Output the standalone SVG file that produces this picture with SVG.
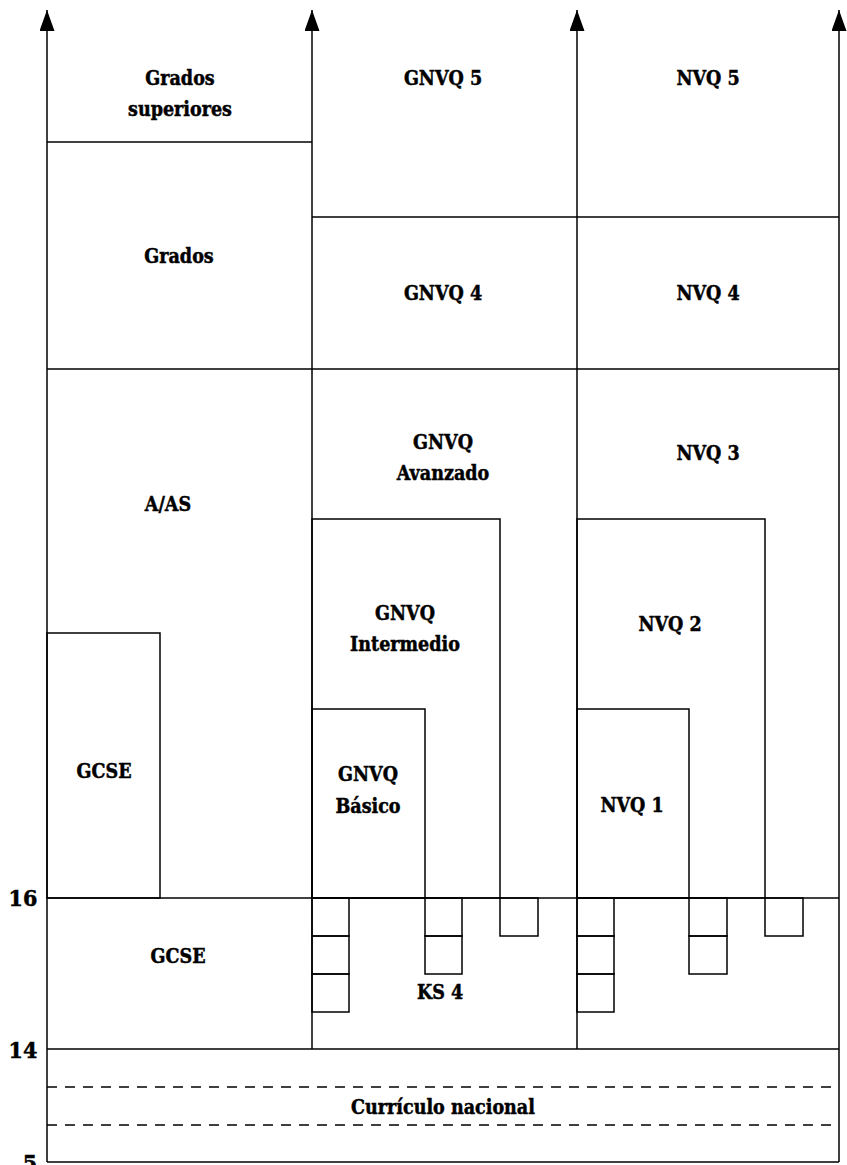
<svg xmlns="http://www.w3.org/2000/svg" width="847" height="1165" viewBox="0 0 847 1165">
<style>
.ln{stroke:#000;stroke-width:1.5;fill:none}
.bx{stroke:#000;stroke-width:1.5;fill:none}
.dash{stroke:#000;stroke-width:1.5;fill:none;stroke-dasharray:10 8}
.t{font-family:"DejaVu Serif Condensed","DejaVu Serif",serif;font-stretch:condensed;font-weight:bold;font-size:19.5px;fill:#000;stroke:#000;stroke-width:0.45;text-anchor:middle}
.n{font-family:"DejaVu Serif Condensed","DejaVu Serif",serif;font-stretch:condensed;font-weight:bold;font-size:23px;fill:#000;stroke:#000;stroke-width:0.5;text-anchor:middle}
</style>
<defs>
<marker id="arr" markerWidth="21" markerHeight="15" refX="21" refY="7.5" orient="auto" markerUnits="userSpaceOnUse" viewBox="0 0 21 15">
<path d="M0,0 L21,7.5 L0,15 Z" fill="#000"/>
</marker>
</defs>
<g id="connectors">
<line class="ln" x1="47" y1="1162" x2="47" y2="10" marker-end="url(#arr)"/>
<line class="ln" x1="312" y1="1049" x2="312" y2="10" marker-end="url(#arr)"/>
<line class="ln" x1="577" y1="1049" x2="577" y2="10" marker-end="url(#arr)"/>
<line class="ln" x1="839" y1="1162" x2="839" y2="10" marker-end="url(#arr)"/>
<line class="ln" x1="47" y1="142" x2="312" y2="142"/>
<line class="ln" x1="312" y1="217" x2="839" y2="217"/>
<line class="ln" x1="47" y1="369" x2="839" y2="369"/>
<line class="ln" x1="47" y1="898" x2="839" y2="898"/>
<line class="ln" x1="47" y1="1049" x2="839" y2="1049"/>
<line class="ln" x1="47" y1="1162" x2="839" y2="1162"/>
<line class="dash" x1="47" y1="1087" x2="839" y2="1087"/>
<line class="dash" x1="47" y1="1125" x2="839" y2="1125"/>
</g>
<g id="grados-superiores"><text class="t" x="180" y="85">Grados</text><text class="t" x="180" y="116">superiores</text></g>
<g id="gnvq5"><text class="t" x="443" y="85">GNVQ 5</text></g>
<g id="nvq5"><text class="t" x="708" y="85">NVQ 5</text></g>
<g id="grados"><text class="t" x="179" y="263">Grados</text></g>
<g id="gnvq4"><text class="t" x="443" y="300">GNVQ 4</text></g>
<g id="nvq4"><text class="t" x="708" y="300">NVQ 4</text></g>
<g id="gnvq-avanzado"><text class="t" x="443" y="449">GNVQ</text><text class="t" x="443" y="480">Avanzado</text></g>
<g id="nvq3"><text class="t" x="708" y="460">NVQ 3</text></g>
<g id="aas"><text class="t" x="168" y="511">A/AS</text></g>
<g id="gnvq-intermedio"><rect class="bx" x="312" y="519" width="188" height="379"/><text class="t" x="405" y="620">GNVQ</text><text class="t" x="405" y="651">Intermedio</text></g>
<g id="nvq2"><rect class="bx" x="577" y="519" width="188" height="379"/><text class="t" x="670" y="631">NVQ 2</text></g>
<g id="gcse-upper"><rect class="bx" x="47" y="633" width="113" height="265"/><text class="t" x="104" y="778">GCSE</text></g>
<g id="gnvq-basico"><rect class="bx" x="312" y="709" width="113" height="189"/><text class="t" x="368" y="781">GNVQ</text><text class="t" x="368" y="813">Básico</text></g>
<g id="nvq1"><rect class="bx" x="577" y="709" width="112" height="189"/><text class="t" x="632" y="812">NVQ 1</text></g>
<g id="gcse-lower"><text class="t" x="178" y="963">GCSE</text></g>
<g id="ks4">
<rect class="bx" x="312" y="898" width="37" height="38"/><rect class="bx" x="312" y="936" width="37" height="38"/><rect class="bx" x="312" y="974" width="37" height="38"/>
<rect class="bx" x="425" y="898" width="37" height="38"/><rect class="bx" x="425" y="936" width="37" height="38"/>
<rect class="bx" x="500" y="898" width="38" height="38"/>
<text class="t" x="440" y="999">KS 4</text>
</g>
<g id="nvq-ks4">
<rect class="bx" x="577" y="898" width="37" height="38"/><rect class="bx" x="577" y="936" width="37" height="38"/><rect class="bx" x="577" y="974" width="37" height="38"/>
<rect class="bx" x="689" y="898" width="38" height="38"/><rect class="bx" x="689" y="936" width="38" height="38"/>
<rect class="bx" x="765" y="898" width="38" height="38"/>
</g>
<g id="curriculo"><text class="t" x="443" y="1114">Currículo nacional</text></g>
<g id="ages">
<text class="n" x="23" y="906">16</text>
<text class="n" x="23" y="1058">14</text>
<text class="n" x="30" y="1171">5</text>
</g>
</svg>
